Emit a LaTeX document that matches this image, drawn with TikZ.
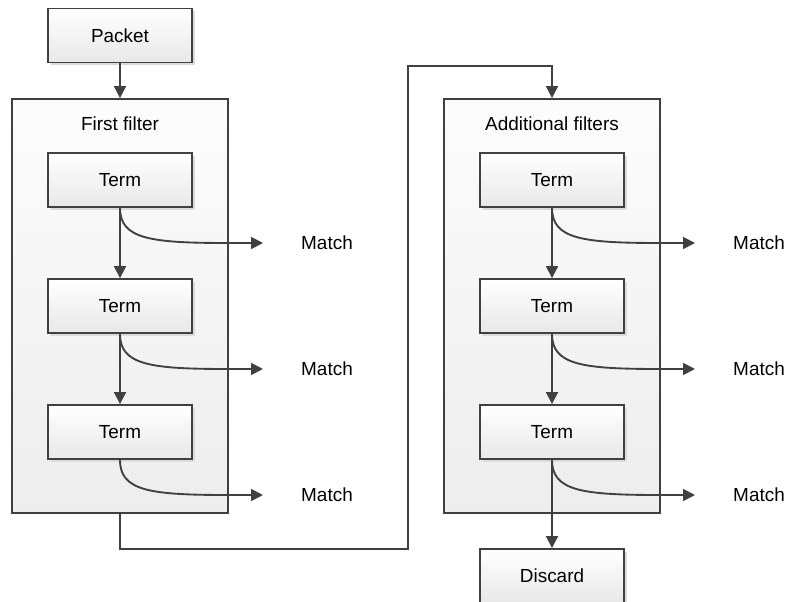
\documentclass[tikz,border=0pt]{standalone}
\usepackage{fontspec}
\setmainfont{Liberation Sans}
\usetikzlibrary{arrows.meta,shadows}
\definecolor{edge}{HTML}{404040}
\tikzset{
  termbox/.style={draw=edge,line width=1.4pt,top color=white,bottom color=black!9,
    minimum width=108pt,minimum height=40.5pt,
    drop shadow={shadow xshift=2pt,shadow yshift=-2pt,fill=black!14,opacity=1}},
  stagebox/.style={draw=edge,line width=1.4pt,top color=black!1,bottom color=black!7,
    minimum width=162pt,minimum height=310.5pt},
  flow/.style={draw=edge,line width=1.4pt,-{Triangle[length=9pt,width=9pt]}},
}

\begin{document}
\begin{tikzpicture}[x=.75pt,y=-.75pt,font=\fontsize{14.2pt}{17pt}\selectfont]
\useasboundingbox (0,0) rectangle (796,602);
\node[termbox] (packet) at (120,35.5) {Packet};
\node[stagebox] (first) at (120,306) {};
\node (firstlbl) at (120,124) {First filter};
\node[stagebox] (extra) at (552,306) {};
\node (extralbl) at (552,124) {Additional filters};
\foreach \s/\x in {l/120,r/552}{
  \foreach \i/\y in {1/180,2/306,3/432}{
    \node[termbox] (\s\i) at (\x,\y) {Term};
    \node (\s m\i) at (\x+207,\y+63) {Match};
    \coordinate (\s tip\i) at (\x+143,\y+63);
    \draw[flow] (\s\i.south) .. controls +(0,31) and +(-78,0) .. ([xshift=-26.25pt]\s tip\i) -- (\s tip\i);
  }
  \draw[flow] (\s1) -- (\s2);
  \draw[flow] (\s2) -- (\s3);
}
\node[termbox] (discard) at (552,576) {Discard};
\draw[flow] (packet) -- (first);
\draw[flow] (r3) -- (discard);
% link between the two stages
\coordinate (turnlo) at (408,549);
\coordinate (turnhi) at (408,66);
\draw[flow] (first.south) |- (turnlo) -- (turnhi) -| (extra.north);
\end{tikzpicture}
\end{document}
